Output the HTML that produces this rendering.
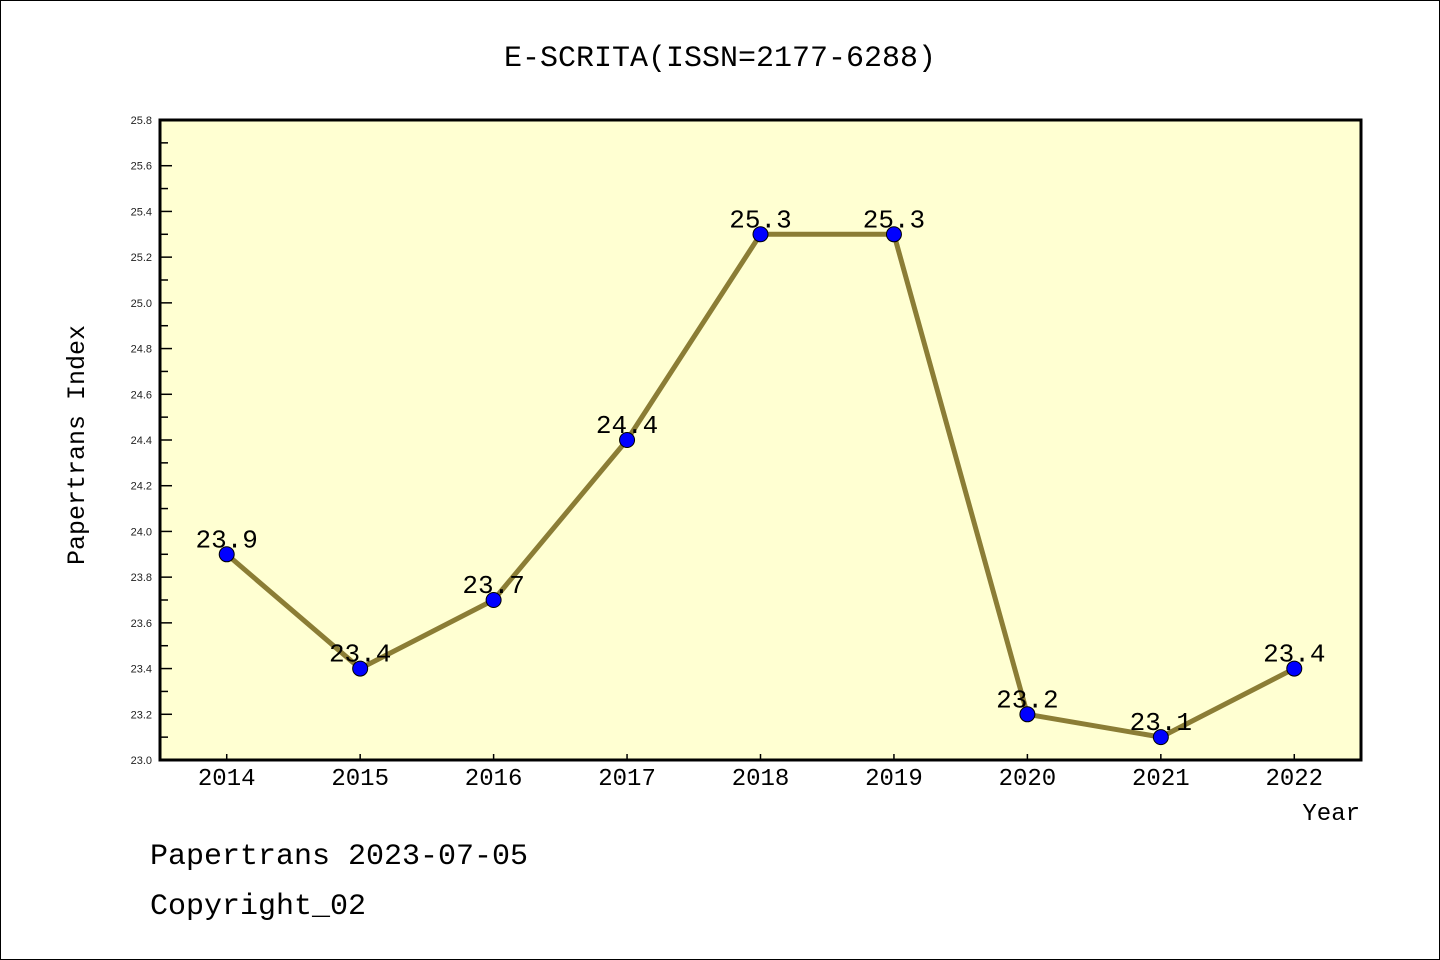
<!DOCTYPE html>
<html><head><meta charset="utf-8"><style>
html,body{margin:0;padding:0;background:#fff}
svg{display:block}
text{font-family:"Liberation Mono","WenQuanYi Zen Hei",monospace}
text.small{font-family:"Liberation Sans",sans-serif}
</style></head><body>
<svg id="chart" width="1440" height="960" xmlns="http://www.w3.org/2000/svg">
<rect x="0.5" y="0.5" width="1439" height="959" fill="#fff" stroke="#000"/>
<text x="720" y="66" text-anchor="middle" font-size="30">E-SCRITA(ISSN=2177-6288)</text>
<rect x="160" y="120" width="1201" height="640" fill="#ffffd2"/>
<g id="yaxis"></g>
<g id="xaxis"></g>
<g id="series"></g>
<rect x="160" y="120" width="1201" height="640" fill="none" stroke="#000" stroke-width="3"/>
<text x="84" y="445" text-anchor="middle" font-size="25" transform="rotate(-90 84 445)">Papertrans Index</text>
<text x="1360" y="820" text-anchor="end" font-size="24">Year</text>
<text x="150" y="864" font-size="30">Papertrans 2023-07-05</text>
<text x="150" y="914" font-size="30">Copyright_02</text>
</svg>
<script>
const years = [2014,2015,2016,2017,2018,2019,2020,2021,2022];
const values = [23.9,23.4,23.7,24.4,25.3,25.3,23.2,23.1,23.4];
const yTicks = ["23.0","23.2","23.4","23.6","23.8","24.0","24.2","24.4","24.6","24.8","25.0","25.2","25.4","25.6","25.8"];
const NS="http://www.w3.org/2000/svg";
const L=160,R=1361,T=120,B=760,yMin=23.0,yMax=25.8,xMin=2013.5,xMax=2022.5;
const xs=v=>L+(v-xMin)/(xMax-xMin)*(R-L);
const ys=v=>B-(v-yMin)/(yMax-yMin)*(B-T);
function mk(tag,attrs,parent){const e=document.createElementNS(NS,tag);for(const k in attrs)e.setAttribute(k,attrs[k]);parent.appendChild(e);return e;}
const ya=document.getElementById('yaxis'),xa=document.getElementById('xaxis'),sg=document.getElementById('series');
yTicks.forEach((t,i)=>{
  const v=parseFloat(t),y=ys(v);
  const ln=mk('line',{x1:L,x2:L+12,y1:y,y2:y,stroke:'#000','stroke-width':1.5},ya);
  
  
  const tx=mk('text',{x:152,y:y+4,'text-anchor':'end','font-size':11,fill:'#222',class:'small'},ya);
  tx.textContent=t;
  
  
  if(i<yTicks.length-1){
    const ym=ys(v+0.1);
    const m=mk('line',{x1:L,x2:L+8,y1:ym,y2:ym,stroke:'#000','stroke-width':1.5},ya);
    
    
  }
});
years.forEach(yr=>{
  const x=xs(yr);
  const ln=mk('line',{x1:x,x2:x,y1:B,y2:B-6,stroke:'#000','stroke-width':1.5},xa);
  
  
  const tx=mk('text',{x:x,y:785,'text-anchor':'middle','font-size':24},xa);
  tx.textContent=String(yr);
  
  
});
const pts=years.map((yr,i)=>xs(yr)+','+ys(values[i])).join(' ');
const pl=mk('polyline',{points:pts,fill:'none',stroke:'#8b7d35','stroke-width':5,'stroke-linejoin':'round'},sg);


years.forEach((yr,i)=>{
  const x=xs(yr),y=ys(values[i]);
  const c=mk('circle',{cx:x,cy:y,r:7.5,fill:'#0000ff',stroke:'#000','stroke-width':1},sg);
  
  
  const t=mk('text',{x:x,y:y-7,'text-anchor':'middle','font-size':26},sg);
  t.textContent=values[i].toFixed(1);
  
  
});
</script>
</body></html>
